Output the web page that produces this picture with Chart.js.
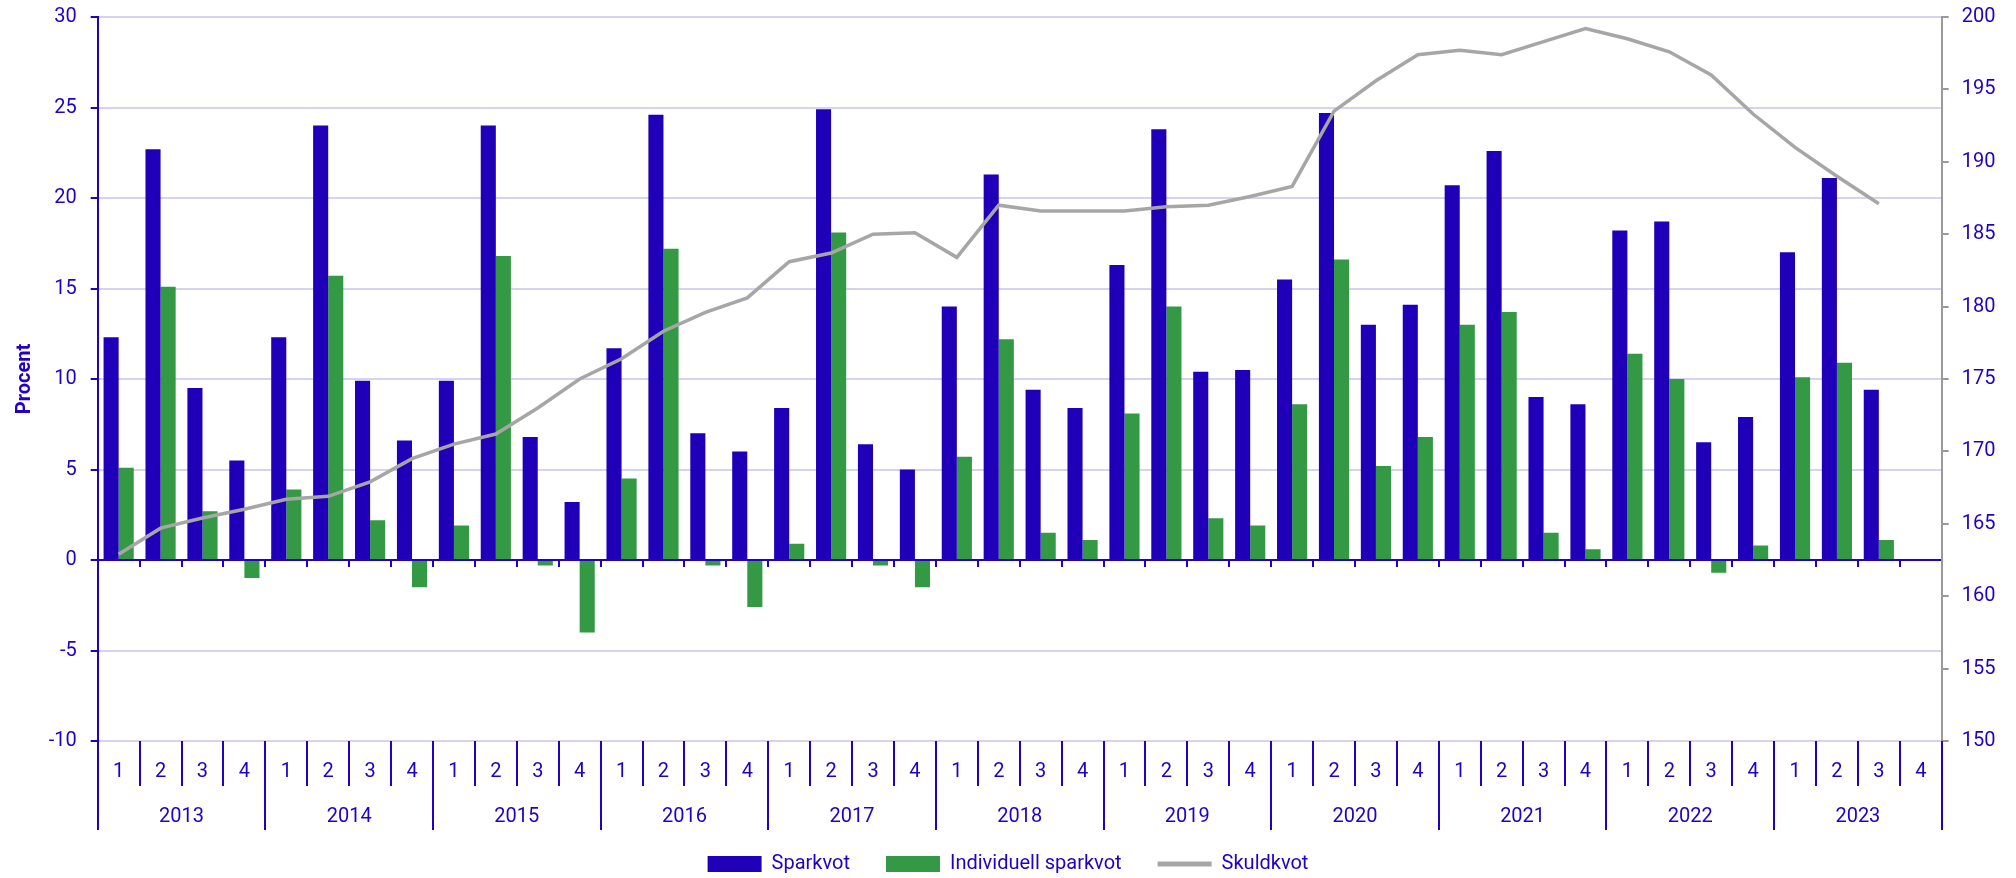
<!DOCTYPE html>
<html>
<head>
<meta charset="utf-8">
<script src="https://cdn.jsdelivr.net/npm/chart.js@4.4.0/dist/chart.umd.min.js"></script>
<style>
html,body{margin:0;padding:0;background:#ffffff;}
#wrap{width:2016px;height:878px;}
</style>
</head>
<body>
<div id="wrap"><canvas id="c" width="2016" height="878"></canvas></div>
<script>
// ---- data ----
const years = ['2013','2014','2015','2016','2017','2018','2019','2020','2021','2022','2023'];
const quarters = ['1','2','3','4'];
const categories = [];
years.forEach(y => quarters.forEach(q => categories.push(y + ' ' + q)));

const sparkvot = [
  12.3, 22.7, 9.5, 5.5,
  12.3, 24.0, 9.9, 6.6,
  9.9, 24.0, 6.8, 3.2,
  11.7, 24.6, 7.0, 6.0,
  8.4, 24.9, 6.4, 5.0,
  14.0, 21.3, 9.4, 8.4,
  16.3, 23.8, 10.4, 10.5,
  15.5, 24.7, 13.0, 14.1,
  20.7, 22.6, 9.0, 8.6,
  18.2, 18.7, 6.5, 7.9,
  17.0, 21.1, 9.4, null
];
const individuellSparkvot = [
  5.1, 15.1, 2.7, -1.0,
  3.9, 15.7, 2.2, -1.5,
  1.9, 16.8, -0.3, -4.0,
  4.5, 17.2, -0.3, -2.6,
  0.9, 18.1, -0.3, -1.5,
  5.7, 12.2, 1.5, 1.1,
  8.1, 14.0, 2.3, 1.9,
  8.6, 16.6, 5.2, 6.8,
  13.0, 13.7, 1.5, 0.6,
  11.4, 10.0, -0.7, 0.8,
  10.1, 10.9, 1.1, null
];
const skuldkvot = [
  162.9, 164.7, 165.4, 166.0,
  166.7, 166.9, 167.9, 169.5,
  170.5, 171.2, 173.0, 175.0,
  176.4, 178.3, 179.6, 180.6,
  183.1, 183.7, 185.0, 185.1,
  183.4, 187.0, 186.6, 186.6,
  186.6, 186.9, 187.0, 187.6,
  188.3, 193.5, 195.6, 197.4,
  197.7, 197.4, 198.3, 199.2,
  198.5, 197.6, 196.0, 193.3,
  191.0, 189.0, 187.1, null
];

// ---- styles ----
const TEXT = '#2200c4';
const AXIS = '#2200c4';
const BLUE = '#1f00b8';
const GREEN = '#339944';
const GREY = '#a6a6a6';
const GRID = '#d4d4f0';
const FONT = 'Roboto';

const xLabelsPlugin = {
  id: 'xlabels',
  afterDraw(chart) {
    const {ctx, chartArea, scales} = chart;
    const x = scales.x, y = scales.y;
    const n = categories.length;
    const w = x.getPixelForValue(1) - x.getPixelForValue(0);
    const bx = i => x.getPixelForValue(i) - w / 2;
    const bottom = chartArea.bottom;
    const y0 = y.getPixelForValue(0);
    ctx.save();
    ctx.strokeStyle = AXIS;
    ctx.lineWidth = 2;
    ctx.beginPath();
    for (let i = 1; i < n; i++) {
      const px = Math.round(bx(i));
      ctx.moveTo(px, y0);
      ctx.lineTo(px, y0 + 7);
    }
    for (let i = 0; i <= n; i++) {
      const px = Math.round(bx(i));
      const len = (i % 4 === 0) ? 89 : 45;
      ctx.moveTo(px, bottom);
      ctx.lineTo(px, bottom + len);
    }
    ctx.stroke();
    ctx.fillStyle = TEXT;
    ctx.font = '20px ' + FONT;
    ctx.textAlign = 'center';
    ctx.textBaseline = 'middle';
    for (let i = 0; i < n; i++) {
      ctx.fillText(quarters[i % 4], x.getPixelForValue(i), bottom + 31);
    }
    years.forEach((yr, k) => {
      const cx = (bx(k * 4) + bx(k * 4 + 4)) / 2;
      ctx.fillText(yr, cx, bottom + 76);
    });
    ctx.restore();
  }
};

const defaultGen = Chart.defaults.plugins.legend.labels.generateLabels;

new Chart(document.getElementById('c'), {
  data: {
    labels: categories,
    datasets: [
      {type: 'bar', label: 'Sparkvot', data: sparkvot, backgroundColor: BLUE, borderWidth: 0,
       yAxisID: 'y', order: 1, categoryPercentage: 0.72, barPercentage: 1.0},
      {type: 'bar', label: 'Individuell sparkvot', data: individuellSparkvot, backgroundColor: GREEN, borderWidth: 0,
       yAxisID: 'y', order: 1, categoryPercentage: 0.72, barPercentage: 1.0},
      {type: 'line', label: 'Skuldkvot', data: skuldkvot, borderColor: GREY, backgroundColor: GREY,
       borderWidth: 3.5, pointRadius: 0, tension: 0, yAxisID: 'y2', order: 0, spanGaps: false}
    ]
  },
  options: {
    responsive: false,
    devicePixelRatio: 1,
    animation: false,
    layout: {padding: {top: 17, left: 0, right: 0, bottom: 0}},
    plugins: {
      tooltip: {enabled: false},
      legend: {
        position: 'bottom',
        maxHeight: 60,
        labels: {
          usePointStyle: true,
          pointStyleWidth: 54,
          boxHeight: 16,
          padding: 36,
          color: TEXT,
          font: {family: FONT, size: 20},
          generateLabels(chart) {
            const items = defaultGen(chart);
            items.forEach(it => {
              const ds = chart.data.datasets[it.datasetIndex];
              if (ds.type === 'line') { it.pointStyle = 'line'; it.lineWidth = 5; it.strokeStyle = GREY; }
              else { it.pointStyle = 'rect'; it.lineWidth = 0; }
            });
            items.sort((a, b) => a.datasetIndex - b.datasetIndex);
            return items;
          }
        }
      }
    },
    scales: {
      x: {
        type: 'category',
        offset: true,
        grid: {display: false},
        border: {display: false},
        ticks: {display: false},
        afterFit(s) { s.height = 77; }
      },
      y: {
        position: 'left',
        min: -10, max: 30,
        ticks: {stepSize: 5, color: TEXT, font: {family: FONT, size: 20}, padding: 14,
                callback: v => String(v)},
        grid: {
          color: c => (c.tick && c.tick.value === 0) ? AXIS : GRID,
          lineWidth: 2,
          drawTicks: true,
          tickLength: 7,
          tickColor: AXIS
        },
        border: {color: AXIS, width: 2},
        title: {display: true, text: 'Procent', color: TEXT,
                font: {family: FONT, size: 20, weight: 'bold'}, padding: {top: 13, bottom: 0}},
        afterFit(s) { s.width = 97.7; s.paddingTop = 0; s.paddingBottom = 0; }
      },
      y2: {
        position: 'right',
        min: 150, max: 200,
        ticks: {stepSize: 5, color: TEXT, font: {family: FONT, size: 20}, padding: 13,
                callback: v => String(v)},
        grid: {drawOnChartArea: false, drawTicks: true, tickLength: 7, tickColor: '#9a9a9a', lineWidth: 2},
        border: {color: '#9a9a9a', width: 2},
        afterFit(s) { s.width = 74.3; s.paddingTop = 0; s.paddingBottom = 0; }
      }
    }
  },
  plugins: [xLabelsPlugin]
});
</script>
</body>
</html>
